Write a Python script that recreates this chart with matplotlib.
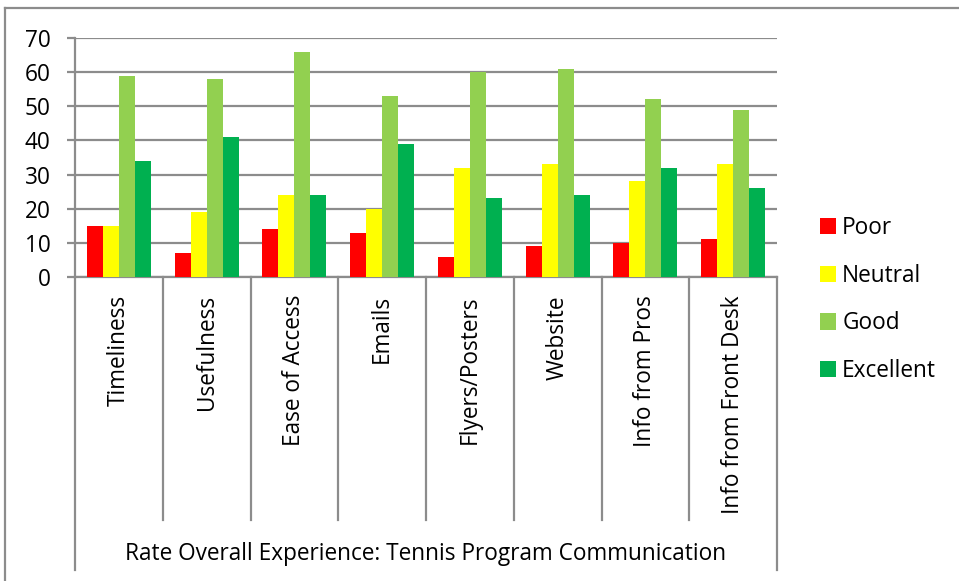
import matplotlib
matplotlib.use("Agg")
import matplotlib.pyplot as plt
import numpy as np
from matplotlib.lines import Line2D

categories = ["Timeliness", "Usefulness", "Ease of Access", "Emails",
              "Flyers/Posters", "Website", "Info from Pros", "Info from Front Desk"]
series_names = ["Poor", "Neutral", "Good", "Excellent"]
poor = [15, 7, 14, 13, 6, 9, 10, 11]
neutral = [15, 19, 24, 20, 32, 33, 28, 33]
good = [59, 58, 66, 53, 60, 61, 52, 49]
excellent = [34, 41, 24, 39, 23, 24, 32, 26]
yticks = [0, 10, 20, 30, 40, 50, 60, 70]
axis_title = "Rate Overall Experience: Tennis Program Communication"

colors = ["#FF0000", "#FFFF00", "#92D050", "#00B050"]
grid_c = "#8C8C8C"
FS = 16.3

plt.rcParams['font.family'] = ['Open Sans', 'DejaVu Sans']
W, H = 959, 581
fig = plt.figure(figsize=(W / 100, H / 100), dpi=100)

x0, x1, ytop, ybot = 75, 777, 38, 277
ax = fig.add_axes([x0 / W, 1 - ybot / H, (x1 - x0) / W, (ybot - ytop) / H])

n = len(categories)
xc = np.arange(n) + 0.5
bw = 0.182
data = [poor, neutral, good, excellent]
handles = []
for k, (vals, c, name) in enumerate(zip(data, colors, series_names)):
    b = ax.bar(xc + (k - 1.5) * bw, vals, width=bw, color=c, label=name,
               zorder=3, linewidth=0)
    handles.append(b)

ax.set_xlim(0, n)
ax.set_ylim(0, 70)
ax.set_yticks(yticks)
ax.yaxis.grid(True, color=grid_c, linewidth=1.6, zorder=0)
ax.tick_params(axis='y', length=8 * 0.72, width=1.6, color=grid_c, pad=12,
               labelsize=FS)
ax.set_xticks(xc)
ax.set_xticklabels(categories, rotation=90, ha='center', va='top', fontsize=FS)
ax.tick_params(axis='x', length=0, pad=13)

for s in ['top', 'right']:
    ax.spines[s].set_visible(False)
ax.spines['left'].set_color(grid_c)
ax.spines['left'].set_linewidth(1.6)
ax.spines['bottom'].set_color(grid_c)
ax.spines['bottom'].set_linewidth(1.6)
ax.set_axisbelow(True)

trans = ax.get_xaxis_transform()
inner_bottom = -(520 - ybot) / (ybot - ytop)
outer_bottom = -(570 - ybot) / (ybot - ytop)
for i in range(n + 1):
    yb = outer_bottom if i in (0, n) else inner_bottom
    ax.add_line(Line2D([i, i], [0, yb], transform=trans, color=grid_c,
                       linewidth=1.6, clip_on=False))

ax.text(n / 2, -(554 - ybot) / (ybot - ytop), axis_title, transform=trans,
        ha='center', va='center', fontsize=FS)

# outer chart frame
fig.add_artist(Line2D([5 / W, 5 / W], [0, 1 - 8 / H], transform=fig.transFigure,
                      color=grid_c, linewidth=1.6))
fig.add_artist(Line2D([5 / W, 1], [1 - 8 / H, 1 - 8 / H], transform=fig.transFigure,
                      color=grid_c, linewidth=1.6))

fig.legend(handles=handles, labels=series_names, loc='center left',
           bbox_to_anchor=(820 / W, 1 - 299.5 / H), frameon=False, fontsize=FS,
           handlelength=0.72, handleheight=0.72, handletextpad=0.26,
           labelspacing=1.05, borderpad=0, borderaxespad=0)

fig.savefig("out.png", dpi=100)
